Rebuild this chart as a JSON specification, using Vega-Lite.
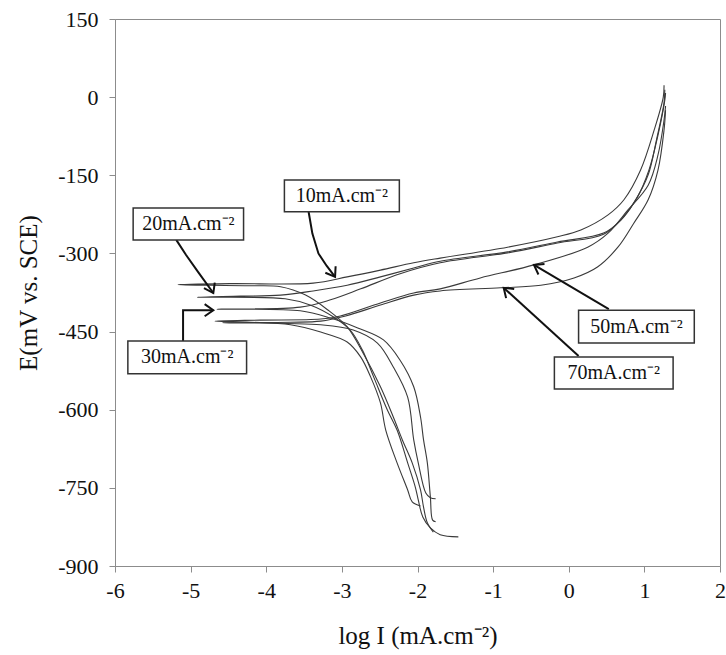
{
  "$schema": "https://vega.github.io/schema/vega-lite/v6.json",
  "width": 605,
  "height": 547,
  "autosize": {"type": "none"},
  "padding": {"left": 115, "top": 19, "right": 6, "bottom": 89},
  "background": "white",
  "config": {"view": {"stroke": "#8c8c8c", "strokeWidth": 1}, "font": "Liberation Serif"},
  "datasets": {
    "curves": [
      {"s":"10","i":1,"x":-1.79,"y":-835},{"s":"10","i":2,"x":-1.87,"y":-817},{"s":"10","i":3,"x":-1.92,"y":-787},{"s":"10","i":4,"x":-1.96,"y":-754},{"s":"10","i":5,"x":-2.07,"y":-702},{"s":"10","i":6,"x":-2.20,"y":-658},{"s":"10","i":7,"x":-2.32,"y":-614},{"s":"10","i":8,"x":-2.49,"y":-556},{"s":"10","i":9,"x":-2.72,"y":-491},{"s":"10","i":10,"x":-2.93,"y":-441},{"s":"10","i":11,"x":-3.19,"y":-408},{"s":"10","i":12,"x":-3.48,"y":-380},{"s":"10","i":13,"x":-3.81,"y":-364},{"s":"10","i":14,"x":-4.21,"y":-362},{"s":"10","i":15,"x":-5.17,"y":-360},{"s":"10","i":16,"x":-4.48,"y":-358},{"s":"10","i":17,"x":-3.38,"y":-357},{"s":"10","i":18,"x":-2.93,"y":-345},{"s":"10","i":19,"x":-2.49,"y":-332},{"s":"10","i":20,"x":-2.05,"y":-318},{"s":"10","i":21,"x":-1.70,"y":-309},{"s":"10","i":22,"x":-0.81,"y":-288},{"s":"10","i":23,"x":-0.15,"y":-268},{"s":"10","i":24,"x":0.16,"y":-255},{"s":"10","i":25,"x":0.52,"y":-226},{"s":"10","i":26,"x":0.73,"y":-197},{"s":"10","i":27,"x":0.95,"y":-140},{"s":"10","i":28,"x":1.13,"y":-63},{"s":"10","i":29,"x":1.25,"y":0},{"s":"10","i":30,"x":1.26,"y":23},
      {"s":"20","i":1,"x":-1.46,"y":-844},{"s":"20","i":2,"x":-1.70,"y":-840},{"s":"20","i":3,"x":-1.83,"y":-827},{"s":"20","i":4,"x":-1.93,"y":-806},{"s":"20","i":5,"x":-1.99,"y":-773},{"s":"20","i":6,"x":-2.03,"y":-748},{"s":"20","i":7,"x":-2.13,"y":-702},{"s":"20","i":8,"x":-2.27,"y":-639},{"s":"20","i":9,"x":-2.40,"y":-600},{"s":"20","i":10,"x":-2.58,"y":-537},{"s":"20","i":11,"x":-2.73,"y":-485},{"s":"20","i":12,"x":-2.89,"y":-447},{"s":"20","i":13,"x":-3.11,"y":-422},{"s":"20","i":14,"x":-3.42,"y":-399},{"s":"20","i":15,"x":-3.75,"y":-387},{"s":"20","i":16,"x":-4.91,"y":-384},{"s":"20","i":17,"x":-4.34,"y":-382},{"s":"20","i":18,"x":-3.81,"y":-380},{"s":"20","i":19,"x":-3.38,"y":-372},{"s":"20","i":20,"x":-2.93,"y":-361},{"s":"20","i":21,"x":-2.49,"y":-345},{"s":"20","i":22,"x":-2.05,"y":-328},{"s":"20","i":23,"x":-1.70,"y":-315},{"s":"20","i":24,"x":-0.81,"y":-297},{"s":"20","i":25,"x":-0.15,"y":-278},{"s":"20","i":26,"x":0.46,"y":-261},{"s":"20","i":27,"x":0.69,"y":-236},{"s":"20","i":28,"x":0.86,"y":-203},{"s":"20","i":29,"x":1.05,"y":-149},{"s":"20","i":30,"x":1.16,"y":-82},{"s":"20","i":31,"x":1.26,"y":-11},{"s":"20","i":32,"x":1.27,"y":14},
      {"s":"30","i":1,"x":-1.76,"y":-815},{"s":"30","i":2,"x":-1.80,"y":-812},{"s":"30","i":3,"x":-1.83,"y":-767},{"s":"30","i":4,"x":-1.87,"y":-702},{"s":"30","i":5,"x":-1.92,"y":-658},{"s":"30","i":6,"x":-1.96,"y":-614},{"s":"30","i":7,"x":-2.05,"y":-556},{"s":"30","i":8,"x":-2.23,"y":-505},{"s":"30","i":9,"x":-2.45,"y":-466},{"s":"30","i":10,"x":-2.79,"y":-443},{"s":"30","i":11,"x":-3.15,"y":-424},{"s":"30","i":12,"x":-3.55,"y":-410},{"s":"30","i":13,"x":-4.65,"y":-407},{"s":"30","i":14,"x":-3.55,"y":-403},{"s":"30","i":15,"x":-3.15,"y":-389},{"s":"30","i":16,"x":-2.75,"y":-368},{"s":"30","i":17,"x":-2.23,"y":-339},{"s":"30","i":18,"x":-1.70,"y":-318},{"s":"30","i":19,"x":-0.81,"y":-299},{"s":"30","i":20,"x":-0.15,"y":-280},{"s":"30","i":21,"x":0.46,"y":-263},{"s":"30","i":22,"x":0.71,"y":-232},{"s":"30","i":23,"x":0.90,"y":-194},{"s":"30","i":24,"x":1.06,"y":-140},{"s":"30","i":25,"x":1.18,"y":-73},{"s":"30","i":26,"x":1.27,"y":-6},{"s":"30","i":27,"x":1.28,"y":8},
      {"s":"50","i":1,"x":-1.96,"y":-785},{"s":"50","i":2,"x":-2.07,"y":-777},{"s":"50","i":3,"x":-2.13,"y":-754},{"s":"50","i":4,"x":-2.27,"y":-702},{"s":"50","i":5,"x":-2.42,"y":-639},{"s":"50","i":6,"x":-2.49,"y":-587},{"s":"50","i":7,"x":-2.62,"y":-537},{"s":"50","i":8,"x":-2.75,"y":-499},{"s":"50","i":9,"x":-2.93,"y":-470},{"s":"50","i":10,"x":-3.28,"y":-451},{"s":"50","i":11,"x":-3.68,"y":-437},{"s":"50","i":12,"x":-4.21,"y":-432},{"s":"50","i":13,"x":-4.68,"y":-430},{"s":"50","i":14,"x":-4.08,"y":-428},{"s":"50","i":15,"x":-3.28,"y":-426},{"s":"50","i":16,"x":-3.02,"y":-420},{"s":"50","i":17,"x":-2.49,"y":-395},{"s":"50","i":18,"x":-2.05,"y":-376},{"s":"50","i":19,"x":-1.70,"y":-368},{"s":"50","i":20,"x":-1.17,"y":-347},{"s":"50","i":21,"x":-0.46,"y":-322},{"s":"50","i":22,"x":0.25,"y":-288},{"s":"50","i":23,"x":0.52,"y":-261},{"s":"50","i":24,"x":0.78,"y":-217},{"s":"50","i":25,"x":1.05,"y":-169},{"s":"50","i":26,"x":1.18,"y":-111},{"s":"50","i":27,"x":1.26,"y":-44},{"s":"50","i":28,"x":1.28,"y":-17},
      {"s":"70","i":1,"x":-1.76,"y":-771},{"s":"70","i":2,"x":-1.83,"y":-769},{"s":"70","i":3,"x":-1.89,"y":-760},{"s":"70","i":4,"x":-1.99,"y":-702},{"s":"70","i":5,"x":-2.05,"y":-658},{"s":"70","i":6,"x":-2.13,"y":-576},{"s":"70","i":7,"x":-2.32,"y":-518},{"s":"70","i":8,"x":-2.53,"y":-472},{"s":"70","i":9,"x":-2.85,"y":-447},{"s":"70","i":10,"x":-3.28,"y":-437},{"s":"70","i":11,"x":-4.58,"y":-433},{"s":"70","i":12,"x":-3.68,"y":-432},{"s":"70","i":13,"x":-3.28,"y":-430},{"s":"70","i":14,"x":-2.95,"y":-420},{"s":"70","i":15,"x":-2.49,"y":-399},{"s":"70","i":16,"x":-2.05,"y":-380},{"s":"70","i":17,"x":-1.70,"y":-372},{"s":"70","i":18,"x":-0.90,"y":-366},{"s":"70","i":19,"x":-0.37,"y":-361},{"s":"70","i":20,"x":0.07,"y":-347},{"s":"70","i":21,"x":0.38,"y":-326},{"s":"70","i":22,"x":0.65,"y":-288},{"s":"70","i":23,"x":0.86,"y":-242},{"s":"70","i":24,"x":1.05,"y":-197},{"s":"70","i":25,"x":1.18,"y":-140},{"s":"70","i":26,"x":1.26,"y":-63},{"s":"70","i":27,"x":1.28,"y":-25}
    ],
    "arrows": [
      {"a":"20","i":1,"x":-5.19,"y":-274},{"a":"20","i":2,"x":-5.06,"y":-303},{"a":"20","i":3,"x":-4.90,"y":-336},{"a":"20","i":4,"x":-4.70,"y":-376},
      {"a":"10","i":1,"x":-3.44,"y":-220},{"a":"10","i":2,"x":-3.39,"y":-262},{"a":"10","i":3,"x":-3.31,"y":-300},{"a":"10","i":4,"x":-3.20,"y":-324},{"a":"10","i":5,"x":-3.09,"y":-345},
      {"a":"30","i":1,"x":-5.10,"y":-468},{"a":"30","i":2,"x":-5.10,"y":-409},{"a":"30","i":3,"x":-4.70,"y":-409},
      {"a":"50","i":1,"x":0.53,"y":-407},{"a":"50","i":2,"x":-0.46,"y":-322},
      {"a":"70","i":1,"x":0.13,"y":-497},{"a":"70","i":2,"x":-0.86,"y":-366}
    ],
    "tips": [
      {"a":"20","x":-4.70,"y":-376},
      {"a":"10","x":-3.09,"y":-345},
      {"a":"30","x":-4.70,"y":-409},
      {"a":"50","x":-0.46,"y":-322},
      {"a":"70","x":-0.86,"y":-366}
    ],
    "boxes": [
      {"label":"20mA.cm⁻²","x":-5.76,"x2":-4.30,"y":-213,"y2":-274,"cx":-5.03,"cy":-243.5},
      {"label":"10mA.cm⁻²","x":-3.76,"x2":-2.24,"y":-159,"y2":-220,"cx":-3.0,"cy":-189.5},
      {"label":"30mA.cm⁻²","x":-5.83,"x2":-4.26,"y":-468,"y2":-531,"cx":-5.045,"cy":-499.5},
      {"label":"50mA.cm⁻²","x":0.13,"x2":1.66,"y":-409,"y2":-472,"cx":0.895,"cy":-440.5},
      {"label":"70mA.cm⁻²","x":-0.19,"x2":1.38,"y":-499,"y2":-560,"cx":0.595,"cy":-529.5}
    ]
  },
  "layer": [
    {
      "data": {"name": "curves"},
      "mark": {"type": "line", "stroke": "#3a3a3a", "strokeWidth": 1.1, "interpolate": "catmull-rom"},
      "encoding": {
        "x": {"field": "x", "type": "quantitative",
          "scale": {"domain": [-6, 2], "nice": false, "zero": false},
          "axis": {"values": [-6,-5,-4,-3,-2,-1,0,1,2], "labelExpr": "'' + datum.value", "title": "log I (mA.cm⁻²)",
            "grid": false, "domainColor": "#8c8c8c", "tickColor": "#8c8c8c", "tickSize": 6,
            "labelFont": "Liberation Serif", "labelFontSize": 22, "labelColor": "#111", "labelPadding": 8,
            "labelOverlap": false, "labelFlush": false, "labelBound": false,
            "titleFont": "Liberation Serif", "titleFontSize": 25, "titleFontWeight": "normal", "titleColor": "#111", "titlePadding": 22}},
        "y": {"field": "y", "type": "quantitative",
          "scale": {"domain": [-900, 150], "nice": false, "zero": false},
          "axis": {"values": [-900,-750,-600,-450,-300,-150,0,150], "labelExpr": "'' + datum.value", "title": "E(mV vs. SCE)",
            "grid": false, "domainColor": "#8c8c8c", "tickColor": "#8c8c8c", "tickSize": 6,
            "labelFont": "Liberation Serif", "labelFontSize": 22, "labelColor": "#111", "labelPadding": 11,
            "labelOverlap": false, "labelBound": false,
            "titleFont": "Liberation Serif", "titleFontSize": 25, "titleFontWeight": "normal", "titleColor": "#111", "titlePadding": 16}},
        "detail": {"field": "s"},
        "order": {"field": "i"}
      }
    },
    {
      "data": {"name": "arrows"},
      "mark": {"type": "line", "stroke": "#111", "strokeWidth": 2, "interpolate": "linear"},
      "encoding": {
        "x": {"field": "x", "type": "quantitative"},
        "y": {"field": "y", "type": "quantitative"},
        "detail": {"field": "a"},
        "order": {"field": "i"}
      }
    },
    {
      "data": {"name": "boxes"},
      "mark": {"type": "rect", "fill": "white", "stroke": "#333", "strokeWidth": 1.5},
      "encoding": {
        "x": {"field": "x", "type": "quantitative"},
        "x2": {"field": "x2"},
        "y": {"field": "y", "type": "quantitative"},
        "y2": {"field": "y2"}
      }
    },
    {
      "data": {"name": "boxes"},
      "mark": {"type": "text", "font": "Liberation Serif", "fontSize": 20, "color": "#111", "align": "center", "baseline": "middle"},
      "encoding": {
        "x": {"field": "cx", "type": "quantitative"},
        "y": {"field": "cy", "type": "quantitative"},
        "text": {"field": "label"}
      }
    },
    {
      "data": {"name": "tips"},
      "transform": [{"filter": "datum.a == '20'"}],
      "mark": {"type": "point", "shape": "M -1 -0.7 L 0 0 L -1 0.7", "filled": false, "stroke": "#111", "strokeWidth": 2, "size": 300, "opacity": 1, "angle": 63},
      "encoding": {"x": {"field": "x", "type": "quantitative"}, "y": {"field": "y", "type": "quantitative"}}
    },
    {
      "data": {"name": "tips"},
      "transform": [{"filter": "datum.a == '10'"}],
      "mark": {"type": "point", "shape": "M -1 -0.7 L 0 0 L -1 0.7", "filled": false, "stroke": "#111", "strokeWidth": 2, "size": 300, "opacity": 1, "angle": 58},
      "encoding": {"x": {"field": "x", "type": "quantitative"}, "y": {"field": "y", "type": "quantitative"}}
    },
    {
      "data": {"name": "tips"},
      "transform": [{"filter": "datum.a == '30'"}],
      "mark": {"type": "point", "shape": "M -1 -0.7 L 0 0 L -1 0.7", "filled": false, "stroke": "#111", "strokeWidth": 2, "size": 300, "opacity": 1, "angle": 0},
      "encoding": {"x": {"field": "x", "type": "quantitative"}, "y": {"field": "y", "type": "quantitative"}}
    },
    {
      "data": {"name": "tips"},
      "transform": [{"filter": "datum.a == '50'"}],
      "mark": {"type": "point", "shape": "M -1 -0.7 L 0 0 L -1 0.7", "filled": false, "stroke": "#111", "strokeWidth": 2, "size": 300, "opacity": 1, "angle": 210},
      "encoding": {"x": {"field": "x", "type": "quantitative"}, "y": {"field": "y", "type": "quantitative"}}
    },
    {
      "data": {"name": "tips"},
      "transform": [{"filter": "datum.a == '70'"}],
      "mark": {"type": "point", "shape": "M -1 -0.7 L 0 0 L -1 0.7", "filled": false, "stroke": "#111", "strokeWidth": 2, "size": 300, "opacity": 1, "angle": 222},
      "encoding": {"x": {"field": "x", "type": "quantitative"}, "y": {"field": "y", "type": "quantitative"}}
    }
  ]
}
